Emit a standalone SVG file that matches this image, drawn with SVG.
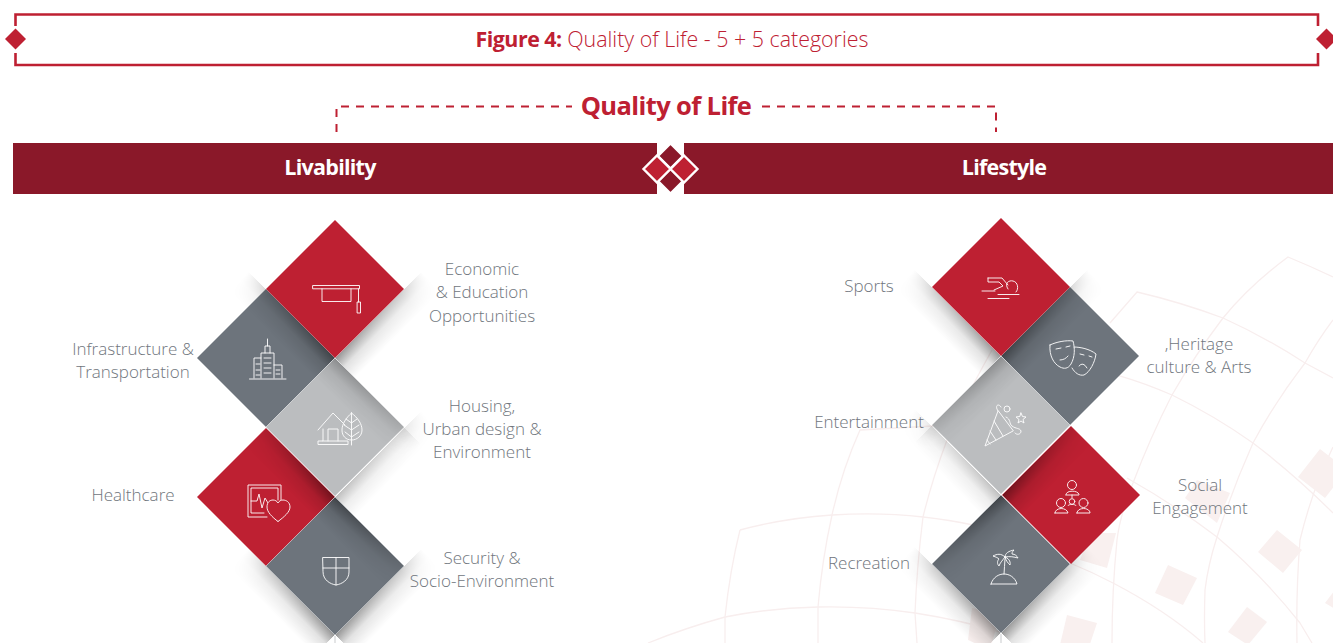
<svg xmlns="http://www.w3.org/2000/svg" width="1333" height="643" viewBox="0 0 1333 643">
<style>
text{font-family:"Open Sans","Liberation Sans",sans-serif}
.l{font-size:17px;font-weight:300;fill:#70767d;text-anchor:middle}
.h{font-size:21.500px;font-weight:700;fill:#fff;text-anchor:middle;letter-spacing:-.75px}
.ic{fill:none;stroke:#fff;stroke-width:1;stroke-linejoin:round;stroke-linecap:round;opacity:.9}
.bg{fill:none;stroke:#f8eeee;stroke-width:1.3}
.sq{fill:#f9f0ef}
.red{fill:#be2032}.gr{fill:#6d747c}.lt{fill:#bbbdbf}
.edge{stroke:#fff;stroke-width:.7;opacity:.45}
.soft{opacity:.62}
</style>
<defs>
<linearGradient id="fy" x1="0" y1="0" x2="0" y2="1"><stop offset="0" stop-color="#000" stop-opacity=".42"/><stop offset=".45" stop-color="#000" stop-opacity=".12"/><stop offset="1" stop-color="#000" stop-opacity="0"/></linearGradient>
<linearGradient id="fx" x1="0" y1="0" x2="1" y2="0"><stop offset="0" stop-color="#fff"/><stop offset=".75" stop-color="#777"/><stop offset="1" stop-color="#000"/></linearGradient>
<linearGradient id="fx2" x1="0" y1="0" x2="1" y2="0"><stop offset="0" stop-color="#fff"/><stop offset="1" stop-color="#333"/></linearGradient>
<mask id="mo" maskUnits="userSpaceOnUse" x="0" y="0" width="122" height="28"><rect width="122" height="28" fill="url(#fx)"/></mask>
<mask id="mi" maskUnits="userSpaceOnUse" x="0" y="0" width="97" height="28"><rect width="97" height="28" fill="url(#fx2)"/></mask>
<rect id="out" width="122" height="28" fill="url(#fy)" mask="url(#mo)"/>
<rect id="in" width="97" height="28" fill="url(#fy)" mask="url(#mi)"/>
</defs>

<g id="background">
<path class="bg" d="M1333 277Q1310 266 1288 257Q1250 285 1223 318Q1195 355 1172 395Q1150 438 1133 483Q1120 515 1117 540Q1112 590 1112 643"/>
<path class="bg" d="M1110 323L1137 292Q1180 302 1223 318Q1265 337 1305 363L1333 378"/>
<path class="bg" d="M1117 375Q1145 383 1172 395Q1215 416 1253 443Q1295 475 1333 513"/>
<path class="bg" d="M1127 478Q1175 505 1217 537Q1262 575 1300 623L1312 643"/>
<path class="bg" d="M1333 320Q1318 340 1305 363Q1275 402 1253 443Q1232 490 1217 537Q1208 565 1205 590Q1204 620 1205 643"/>
<path class="bg" d="M1333 447Q1312 490 1300 540Q1296 590 1297 643"/>
<path class="bg" d="M1070 563Q1092 572 1113 583Q1165 610 1203 643"/>
<path class="bg" d="M933 426Q895 428 860 430Q842 470 832 515Q822 560 818 607L818 643"/>
<path class="bg" d="M992 350Q977 377 968 395Q955 420 947 440Q932 480 923 517Q917 565 915 613L917 643"/>
<path class="bg" d="M740 530Q785 518 832 515Q880 512 923 517Q950 520 973 525"/>
<path class="bg" d="M740 530Q730 570 725 617L725 643"/>
<path class="bg" d="M648 643Q685 628 725 617Q770 608 818 607Q868 606 915 613Q960 620 1000 632"/>
<polygon class="sq" points="1258,552 1277,530 1302,550 1283,573"/>
<polygon class="sq" points="1155,593 1168,565 1197,578 1183,605"/>
<polygon class="sq" points="1228,632 1247,607 1267,622 1248,645"/>
<polygon class="sq" points="1060,645 1067,615 1097,623 1088,650"/>
<polygon class="sq" points="1298,477 1320,449 1347,470 1325,498"/>
<polygon class="sq" points="1185,498 1197,480 1230,493 1217,523"/>
<polygon class="sq" points="1080,560 1090,533 1116,533 1107,568"/>
<polygon class="sq" points="1325,603 1335,590 1340,612"/>
<polygon class="sq" points="972,608 1000,614 990,650 968,640"/>
</g>

<g id="header">
<path d="M15.500 26V14.500H1318V26M15.500 53V65H1318V53" fill="none" stroke="#be2032" stroke-width="2.600"/>
<polygon class="red" points="15.500,28.500 26,39 15.500,49.500 5,39"/>
<polygon class="red" points="1326.500,28.500 1337,39 1326.500,49.500 1316,39"/>
<text x="672" y="47" text-anchor="middle" font-size="21.400" font-weight="300" fill="#be2032"><tspan font-weight="700" letter-spacing="-.5">Figure 4:</tspan> Quality of Life - 5 + 5 categories</text>
</g>

<g id="connectors">
<path d="M336.500 132V106.500H572M762 106.500H996V132" fill="none" stroke="#be2032" stroke-width="2" stroke-dasharray="8 7"/>
</g>
<text x="666" y="115" text-anchor="middle" font-size="25.500" font-weight="700" fill="#be2032" letter-spacing="-.6">Quality of Life</text>

<g id="banner-livability">
<rect x="13" y="143" width="644" height="51" fill="#8a1829"/>
<text class="h" x="330" y="175">Livability</text>
</g>
<g id="banner-lifestyle">
<rect x="684" y="143" width="649" height="51" fill="#8a1829"/>
<text class="h" x="1004" y="175">Lifestyle</text>
</g>
<g id="banner-mark" stroke="#fff" stroke-width="2.400">
<polygon points="670.500,143.500 683,156 670.500,168.500 658,156" fill="#8a1829"/>
<polygon points="670.500,168.500 683,181 670.500,193.500 658,181" fill="#8a1829"/>
<polygon points="657,155.500 670.500,169 657,182.500 643.500,169" fill="#be2032"/>
<polygon points="684,155.500 697.500,169 684,182.500 670.500,169" fill="#be2032"/>
</g>

<g id="node-infrastructure">
<polygon class="gr" points="266,289 335,358 266,427 197,358"/>
<use href="#out" transform="translate(335,358) rotate(-135) scale(1,-1)"/>
<g class="ic"><path d="M249.500 379H286M254 378V358H261M261 378V353H274V378M274 365H282V378M265 353V346H270V353M267.500 346V339M264 358H271M264 363H271M264 368H271M264 373H271M256 364H260M256 370H260M256 375H260M276 370H280M276 374H280"/></g>
<text class="l" x="133" y="355">Infrastructure &amp;</text><text class="l" x="133" y="378">Transportation</text>
</g>
<g id="node-education">
<use href="#out" transform="translate(335,358) rotate(-45)"/>
<polygon class="red" points="335,220 404,289 335,358 266,289"/>
<g class="ic"><path d="M313 285.500H359.500V288.800H313ZM322 288.800V301.500H351V288.800M358.500 288.800V302M357.500 302H360.500V313H357.500Z"/></g>
<text class="l" x="482" y="275">Economic</text><text class="l" x="482" y="298">&amp; Education</text><text class="l" x="482" y="322">Opportunities</text>
</g>
<g id="node-healthcare">
<polygon class="red" points="266,428 335,497 266,566 197,497"/>
<use href="#in" transform="translate(335,497) rotate(-135) scale(1,-1)"/>
<g class="ic"><path d="M267 517H248V485H281V500M264 513H251V488H278V500M251 501H257L259 494L262 508L265 498L268 503H272"/><path fill="#be2032" d="M278 521.500C272 517 267 512 267 507C267 502 270 500 273 500C275 500 277 501 278 503C279 501 281 500 283 500C286 500 290 502 290 507C290 512 284 517 278 521.500Z"/></g>
<text class="l" x="133" y="501">Healthcare</text>
</g>
<g id="node-housing">
<use class="soft" href="#out" transform="translate(335,497) rotate(-45)"/>
<polygon class="lt" points="335,358 404,427 335,496 266,427"/>
<use class="soft" href="#out" transform="translate(335,358) rotate(45)"/>
<g class="ic"><path d="M318 430L333 413L345 425M323 429V441H318V444.500H348V441H323M328 441V429H338V441"/><path d="M351.500 413C358 418 362 424 362 430C362 436 357 440 351.500 440C346 440 342 436 342 430C342 424 346 418 351.500 413ZM351.500 413V445M351.500 423L346 419M351.500 423L357 419M351.500 430L344 425M351.500 430L359 425M351.500 437L345 432M351.500 437L359 432"/></g>
<text class="l" x="482" y="412">Housing,</text><text class="l" x="482" y="435">Urban design &amp;</text><text class="l" x="482" y="458">Environment</text>
</g>
<g id="node-security">
<use href="#out" transform="translate(335,635) rotate(-45)"/>
<use href="#out" transform="translate(335,635) rotate(-135) scale(1,-1)"/>
<polygon class="gr" points="335,497 404,566 335,635 266,566"/>
<use href="#in" transform="translate(335,497) rotate(45)"/>
<line x1="335" y1="636" x2="335" y2="643" stroke="#c9cbcd" stroke-width="1"/>
<g class="ic"><path d="M323 557.500H349V572C349 580 342 584 336 585C330 584 323 580 323 572ZM336 557.500V585M323 568H349"/></g>
<text class="l" x="482" y="564">Security &amp;</text><text class="l" x="482" y="587">Socio-Environment</text>
</g>
<line class="edge" x1="335" y1="358" x2="266" y2="427"/>
<line class="edge" x1="335" y1="497" x2="266" y2="566"/>

<g id="node-heritage">
<polygon class="gr" points="1070,287 1139,356 1070,425 1001,356"/>
<use href="#out" transform="translate(1001,356) scale(-1,1) rotate(-135) scale(1,-1)"/>
<g class="ic"><path d="M1050 345C1056 342 1066 340 1073 341C1075 348 1075 357 1071 364C1068 369 1064 369 1060 367C1054 364 1049 356 1050 345ZM1056 349L1061 348M1066 347L1070 346M1060 360Q1065 360 1068 356"/><path d="M1074 347C1080 347 1090 349 1096 354C1095 362 1090 372 1084 375C1079 376 1075 373 1072 368M1080 354L1084 355M1089 356L1092 357M1079 366Q1083 361 1087 368"/></g>
<text class="l" x="1199" y="350">,Heritage</text><text class="l" x="1199" y="373">culture &amp; Arts</text>
</g>
<g id="node-sports">
<use href="#out" transform="translate(1001,356) scale(-1,1) rotate(-45)"/>
<polygon class="red" points="1001,218 1070,287 1001,356 932,287"/>
<g class="ic"><path d="M982 291H995M998 294.500H1019M988 298.500H1009M988 278H1002L1008 285M988 278V282H999L1003 286L994 290M1008 289C1004 283 1009 280 1013 281C1018 282 1019 289 1016 292"/></g>
<text class="l" x="869" y="292">Sports</text>
</g>
<g id="node-social">
<polygon class="red" points="1071,426 1140,495 1071,564 1002,495"/>
<use href="#in" transform="translate(1002,495) scale(-1,1) rotate(-135) scale(1,-1)"/>
<g class="ic"><circle cx="1072" cy="485" r="4.500"/><path d="M1066 494.500C1066 490 1078 490 1079 494.500L1079 495H1066ZM1072 495V498"/><circle cx="1061" cy="503" r="4.500"/><path d="M1055 513C1055 507 1067 507 1068 513H1055Z"/><circle cx="1083.500" cy="503" r="4.500"/><path d="M1077 513C1077 507 1090 507 1090 513H1077Z"/><circle cx="1072" cy="501.500" r="2.800"/><path d="M1068 505.500C1068 504 1076 504 1076 505.500"/></g>
<text class="l" x="1200" y="491">Social</text><text class="l" x="1200" y="514">Engagement</text>
</g>
<g id="node-entertainment">
<use class="soft" href="#out" transform="translate(1001,495) scale(-1,1) rotate(-45)"/>
<polygon class="lt" points="1001,356 1070,425 1001,494 932,425"/>
<use class="soft" href="#out" transform="translate(1001,356) scale(-1,1) rotate(45)"/>
<g class="ic"><path d="M998 411L985 446L1013 431ZM994 421L1003 436M990 431L996 440M987 440L990 444"/><circle cx="1007" cy="409" r="3"/><path d="M1021 413L1022.500 416.500L1026 417L1023 419.500L1024 423L1021 421L1018 423L1019 419.500L1016 417L1019.500 416.500ZM998 411C994 405 999 403 1001 407M1006 417C1011 419 1009 424 1012 426C1016 429 1020 428 1021 431C1021 435 1016 435 1015 433"/></g>
<text class="l" x="869" y="428">Entertainment</text>
</g>
<g id="node-recreation">
<use href="#out" transform="translate(1001,633) scale(-1,1) rotate(-45)"/>
<use href="#out" transform="translate(1001,633) scale(-1,1) rotate(-135) scale(1,-1)"/>
<polygon class="gr" points="1001,495 1070,564 1001,633 932,564"/>
<use href="#in" transform="translate(1001,495) scale(-1,1) rotate(45)"/>
<line x1="1001" y1="634" x2="1001" y2="643" stroke="#c9cbcd" stroke-width="1"/>
<g class="ic"><path d="M991 584H1017C1015 577 1009 574 1004 574C999 574 993 577 991 584ZM1004 574C1004 569 1005 564 1005 559M1005 557C1001 553 997 554 993 556C996 557 998 558 999 559C997 561 997 564 999 566C1000 563 1002 561 1005 557ZM1005 557C1005 553 1009 551 1014 550C1012 552 1012 553 1012 554C1015 554 1017 556 1018 558C1014 557 1010 556 1005 557ZM1005 557C1008 558 1011 561 1010 565C1008 563 1006 561 1005 557"/></g>
<text class="l" x="869" y="569">Recreation</text>
</g>
<line class="edge" x1="1001" y1="356" x2="1070" y2="425"/>
<line class="edge" x1="1001" y1="495" x2="1070" y2="564"/>
</svg>
